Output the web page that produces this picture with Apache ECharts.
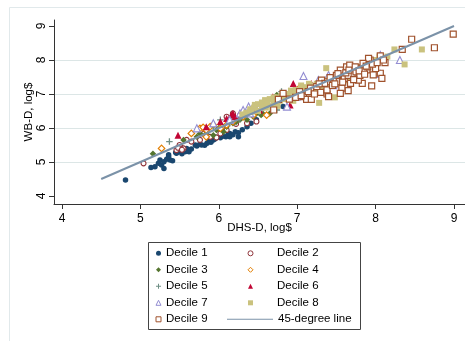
<!DOCTYPE html>
<html><head><meta charset="utf-8">
<script src="https://cdn.jsdelivr.net/npm/echarts@6/dist/echarts.min.js"></script>
<style>html,body{margin:0;padding:0;background:#fff}#c{width:465px;height:341px}</style>
</head><body><div id="c"></div>
<script>
var xTicks = [4, 5, 6, 7, 8, 9];
var yTicks = [4, 5, 6, 7, 8, 9];
var xTitle = 'DHS-D, log$';
var yTitle = 'WB-D, log$';
var lineX = [4.5, 9];
var lineY = [4.5, 9];

var decile1 = [[4.81,4.47],[5.135,4.84],[5.186,4.86],[5.23,4.96],[5.27,4.91],[5.30,4.81],[5.25,5.06],[5.30,5.01],[5.335,5.08],[5.38,5.06],[5.36,5.21],[5.41,5.04],[5.36,5.16],[5.46,5.26],[5.53,5.24],[5.57,5.30],[5.59,5.40],[5.62,5.30],[5.72,5.47],[5.76,5.53],[5.82,5.49],[5.87,5.60],[5.93,5.65],[5.97,5.73],[6.02,5.71],[6.09,5.74],[6.14,5.84],[6.21,5.89],[6.25,5.74],[6.25,5.86],[6.36,6.04],[6.41,6.14],[6.48,6.24],[6.82,6.63],[5.50,5.30],[5.60,5.33],[5.65,5.38],[5.55,5.35],[5.45,5.28],[5.70,5.50],[5.78,5.50],[5.90,5.58],[6.05,5.76],[6.12,5.82],[6.30,5.95],[6.18,5.80],[5.95,5.68],[5.85,5.55],[6.14,5.74]];
var decile2 = [[5.04,4.96],[5.46,5.35],[5.51,5.45],[5.55,5.40],[5.50,5.50],[5.59,5.65],[5.76,5.65],[5.89,5.74],[6.02,5.84],[6.10,5.94],[6.14,6.28],[6.18,6.43],[6.36,6.14],[6.48,6.19],[5.97,5.72],[5.81,5.83],[5.65,5.60],[6.27,6.37],[6.10,6.33],[5.48,5.42],[5.53,5.36],[6.22,6.12]];
var decile3 = [[5.16,5.24],[5.72,5.74],[5.84,5.84],[5.97,5.94],[6.10,6.04],[6.18,6.14],[6.27,6.24],[6.44,6.33],[6.54,6.38],[6.56,6.43],[6.61,6.63],[6.74,6.97],[5.93,5.79],[5.76,5.84],[6.06,5.89],[6.36,6.24],[5.55,5.65],[6.48,6.43],[6.65,6.43],[6.00,6.00],[6.22,6.18]];
var decile4 = [[5.27,5.40],[5.76,5.99],[5.89,6.04],[5.93,6.09],[5.84,5.94],[6.02,5.99],[6.10,6.09],[6.18,6.19],[6.44,6.38],[6.61,6.38],[7.04,7.20],[5.84,5.74],[6.31,6.33],[5.65,5.84],[5.80,6.02]];
var decile5 = [[5.37,5.60],[6.02,6.24],[6.80,7.07],[6.74,6.53],[6.14,6.14],[6.36,6.38],[6.52,6.48],[6.44,6.53],[6.27,6.28],[5.93,6.04],[6.18,6.33]];
var decile6 = [[5.48,5.79],[6.02,6.19],[6.10,6.28],[6.16,6.38],[6.21,6.33],[6.27,6.43],[6.36,6.53],[6.44,6.63],[6.69,6.92],[6.95,7.31],[6.91,6.68],[7.18,7.31],[7.20,7.17],[7.67,7.66],[5.93,6.14],[5.84,6.04],[6.52,6.53],[6.18,6.43],[6.48,6.53],[7.04,7.04]];
var decile7 = [[5.72,5.99],[6.14,6.24],[6.27,6.43],[6.31,6.53],[6.38,6.63],[6.52,6.63],[6.87,6.63],[6.99,6.92],[7.08,7.53],[7.27,7.41],[7.40,7.56],[8.06,8.15],[8.31,8.00],[8.06,7.59],[5.93,6.14],[6.40,6.43],[6.87,6.92],[7.46,7.26],[6.69,6.73]];
var decile8 = [[6.35,6.45],[6.45,6.60],[6.50,6.70],[6.55,6.75],[6.60,6.80],[6.65,6.85],[6.70,6.75],[6.75,6.90],[6.80,6.95],[6.85,6.85],[6.90,7.00],[6.95,7.05],[7.00,6.95],[7.05,7.10],[7.10,7.15],[7.15,7.05],[7.20,7.25],[7.25,7.30],[7.30,7.35],[7.37,7.76],[7.40,7.40],[7.48,6.90],[7.50,7.45],[7.55,7.50],[7.60,7.55],[7.70,7.65],[7.80,7.80],[7.90,7.90],[8.00,8.00],[8.05,8.10],[8.24,8.31],[8.59,8.31],[8.37,7.87],[7.28,6.74],[6.75,6.65],[6.95,6.80],[7.15,7.30],[6.60,6.60],[6.50,6.50],[7.35,7.20],[7.65,7.40],[7.05,7.25],[6.46,6.68],[6.59,6.82],[6.30,6.40],[6.40,6.55],[6.55,6.60],[6.62,6.72],[6.70,6.90],[6.78,6.80],[6.88,6.92],[6.92,7.10],[7.02,7.05],[7.08,6.98],[7.12,7.20],[7.22,7.12],[7.28,7.20],[7.32,7.28],[7.42,7.32],[7.52,7.38],[7.58,7.62],[7.62,7.48],[7.72,7.55],[7.75,7.72],[7.85,7.75],[7.95,7.95],[8.10,8.05],[8.15,8.10],[6.42,6.48],[6.68,6.62],[6.82,7.02],[6.98,7.12],[7.18,7.22],[7.45,7.50]];
var decile9 = [[8.99,8.76],[8.75,8.36],[8.46,8.61],[8.34,8.31],[8.06,7.61],[7.95,7.24],[7.83,7.31],[8.12,7.92],[8.06,8.12],[7.93,8.00],[7.89,7.71],[7.82,7.61],[7.91,8.05],[7.72,7.51],[7.68,7.31],[7.65,7.10],[7.57,7.17],[7.55,7.02],[7.53,7.36],[7.63,7.80],[7.67,7.85],[7.59,7.56],[7.46,7.41],[7.38,7.36],[7.38,7.00],[7.30,7.05],[7.76,7.76],[7.84,7.90],[7.78,7.41],[7.97,7.56],[8.08,7.46],[7.31,7.41],[7.17,7.17],[7.08,6.92],[6.70,6.53],[6.76,6.84],[6.82,7.02],[7.12,6.84],[7.18,6.84],[7.25,7.22],[7.35,7.31],[7.38,7.12],[7.14,7.07],[7.03,7.07],[7.40,6.92],[7.60,7.45],[7.70,7.60],[7.75,7.65],[7.80,7.55],[7.85,7.70],[7.50,7.55],[7.45,7.25],[7.65,7.55],[7.55,7.70],[7.90,7.80],[8.00,7.75],[8.10,8.00],[7.42,7.48],[7.48,7.30],[7.52,7.60],[7.58,7.35],[7.62,7.62],[7.66,7.70],[7.72,7.42],[7.74,7.80],[7.79,7.68],[7.86,7.58],[7.88,7.82],[7.96,7.88],[8.02,7.92],[7.28,7.30],[7.22,7.00],[6.98,6.90],[6.90,6.85],[7.05,6.95]];

var names = ['Decile 1','Decile 2','Decile 3','Decile 4','Decile 5','Decile 6','Decile 7','Decile 8','Decile 9','45-degree line'];
var FONT = '"Liberation Sans", Arial, sans-serif';
var plus = 'path://M4,0H6V4H10V6H6V10H4V6H0V4H4Z';

function sc(name, data, symbol, size, fill, border, bw) {
  return {
    type: 'scatter', name: name, data: data, symbol: symbol, symbolSize: size,
    itemStyle: { color: fill, borderColor: border, borderWidth: bw, opacity: 1 },
    emphasis: { disabled: true }, animation: false
  };
}

var lineData = lineX.map(function (v, i) { return [v, lineY[i]]; });

var series = [
  sc(names[0], decile1, 'circle', 5.5, '#1a476f', '#1a476f', 0),
  sc(names[1], decile2, 'circle', 5, '#ffffff', '#90353b', 1.1),
  sc(names[2], decile3, 'diamond', 6.5, '#55752f', '#55752f', 0),
  sc(names[3], decile4, 'diamond', 6.5, '#ffffff', '#e37e00', 1.2),
  sc(names[4], decile5, plus, 6.5, '#6e8e84', '#6e8e84', 0),
  sc(names[5], decile6, 'triangle', 7, '#c10534', '#c10534', 0),
  sc(names[6], decile7, 'triangle', 7, '#ffffff', '#938dd2', 1.1),
  sc(names[7], decile8, 'rect', 6, '#cac27e', '#cac27e', 0),
  sc(names[8], decile9, 'rect', 6, '#ffffff', '#a0522d', 1.2),
  { type: 'line', name: names[9], data: lineData, symbol: 'none', showSymbol: false,
    lineStyle: { color: '#7b92a8', width: 2 }, itemStyle: { color: '#7b92a8' },
    z: 5, animation: false, emphasis: { disabled: true } }
];

var legendText = { fontFamily: FONT, fontSize: 11.5, color: '#000', lineHeight: 14 };
var legendText2 = { fontFamily: FONT, fontSize: 11.5, color: '#000', lineHeight: 14, padding: [0, 0, 0, 19] };
var thin = { borderWidth: 1 };
var none = { borderWidth: 0 };

var option = {
  animation: false,
  backgroundColor: '#fff',
  textStyle: { fontFamily: FONT },
  grid: { left: 54, right: 0, top: 20, height: 184 },
  xAxis: {
    type: 'value', min: 3.898, max: 9.1403,
    name: xTitle, nameLocation: 'middle', nameGap: 18, nameMoveOverlap: false,
    nameTextStyle: { fontFamily: FONT, fontSize: 11.5, color: '#000' },
    axisLine: { show: true, onZero: false, lineStyle: { color: '#333', width: 1 } },
    axisTick: { show: true, inside: false, length: 5, customValues: xTicks, lineStyle: { color: '#333' } },
    axisLabel: { customValues: xTicks, margin: 9, fontFamily: FONT, fontSize: 12, color: '#000' },
    splitLine: { show: false }
  },
  yAxis: {
    type: 'value', min: 3.765, max: 9.176, splitNumber: 5,
    name: yTitle, nameLocation: 'middle', nameGap: 19, nameRotate: 90, nameMoveOverlap: false,
    nameTextStyle: { fontFamily: FONT, fontSize: 11.5, color: '#000' },
    axisLine: { show: true, onZero: false, lineStyle: { color: '#333', width: 1 } },
    axisTick: { show: true, inside: false, length: 5, customValues: yTicks, lineStyle: { color: '#333' } },
    axisLabel: { customValues: yTicks, rotate: 90, margin: 6, fontFamily: FONT, fontSize: 12, color: '#000' },
    splitLine: { show: true, showMinLine: false, showMaxLine: false, lineStyle: { color: '#dce6e6', width: 1 } }
  },
  legend: [
    { orient: 'vertical', left: 155.5, top: 246.3, padding: 0, itemWidth: 5, itemHeight: 5, itemGap: 2.5,
      data: [
        { name: names[0], itemStyle: none },
        { name: names[2], itemStyle: none },
        { name: names[4], itemStyle: none },
        { name: names[6], itemStyle: thin },
        { name: names[8], itemStyle: thin }
      ], textStyle: legendText, selectedMode: false },
    { orient: 'vertical', left: 247.5, top: 246.3, padding: 0, itemWidth: 5, itemHeight: 5, itemGap: 2.5,
      data: [
        { name: names[1], itemStyle: thin },
        { name: names[3], itemStyle: thin },
        { name: names[5], itemStyle: none },
        { name: names[7], itemStyle: none }
      ], textStyle: legendText2, selectedMode: false },
    { orient: 'vertical', left: 227, top: 312.3, padding: 0, itemWidth: 46, itemHeight: 1,
      data: [{ name: names[9], icon: 'rect' }], textStyle: legendText,
      selectedMode: false }
  ],
  graphic: [
    { type: 'rect', shape: { x: 9.5, y: 7.5, width: 470, height: 345 },
      style: { fill: 'none', stroke: '#e1e9eb', lineWidth: 1 }, silent: true, z: -1 },
    { type: 'rect', shape: { x: 148.5, y: 242.5, width: 212, height: 87 },
      style: { fill: 'none', stroke: '#444', lineWidth: 1 }, silent: true }
  ],
  series: series
};

var chart = echarts.init(document.getElementById('c'), null, { renderer: 'canvas' });
chart.setOption(option);
</script>
</body></html>
